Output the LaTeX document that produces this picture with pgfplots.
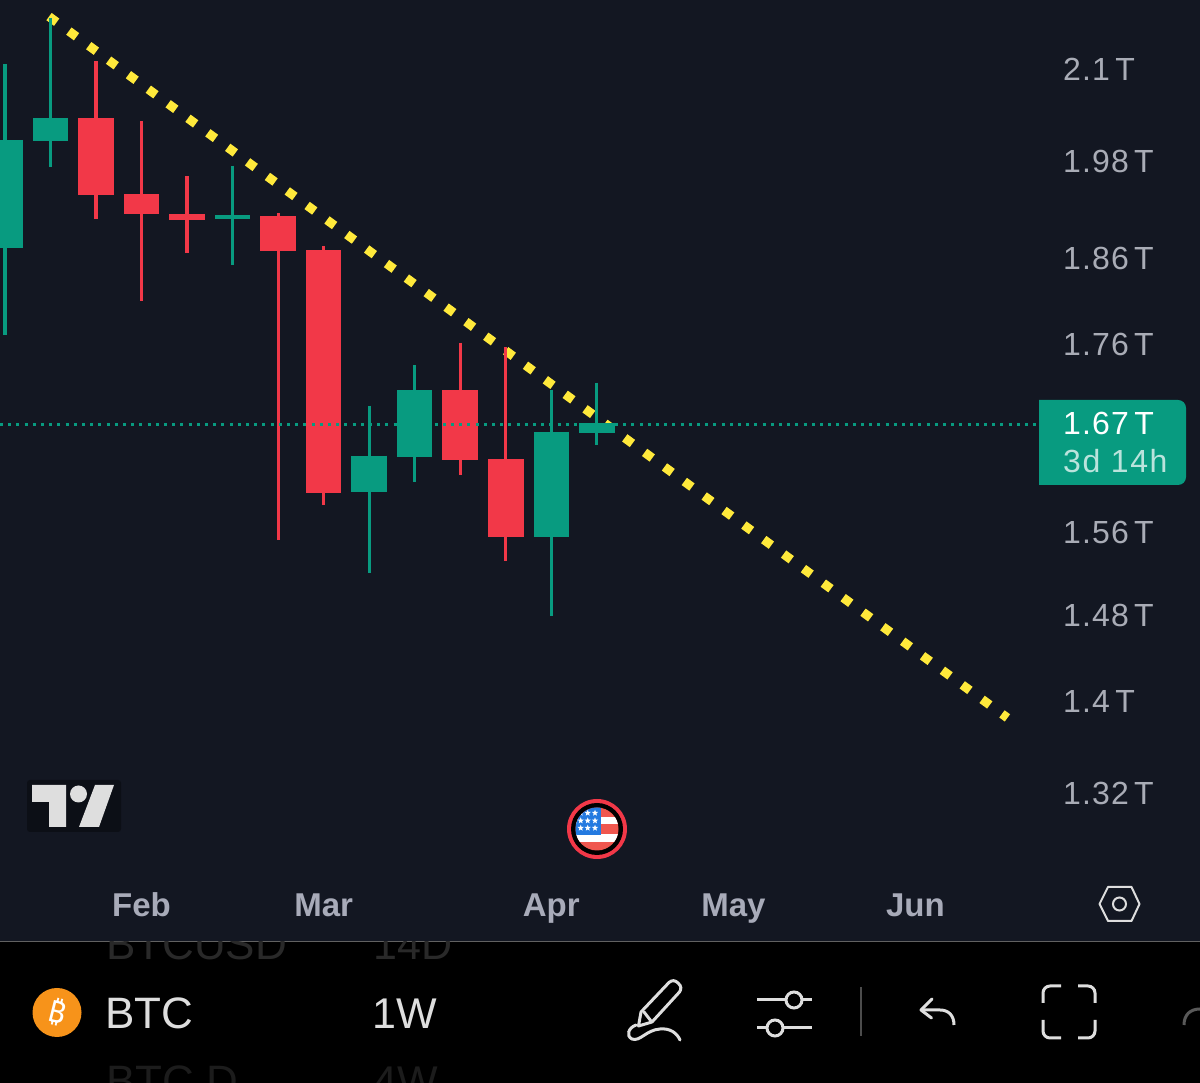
\documentclass[border=0pt]{standalone}
\usepackage{fontspec}
\usepackage{pgfplots}
\pgfplotsset{compat=1.18}
\usetikzlibrary{shapes.geometric}
\setmainfont{Liberation Sans}
\newfontfamily\pricefont[LetterSpace=3.6]{Liberation Sans}
\newfontfamily\timefont[LetterSpace=5]{Liberation Sans}
\newfontfamily\btcfont{Noto Sans}
\definecolor{bg}{HTML}{131722}
\definecolor{up}{HTML}{089B80}
\definecolor{down}{HTML}{F23848}
\definecolor{trend}{HTML}{FFE93B}
\definecolor{pricegray}{HTML}{A9ACB6}
\definecolor{monthgray}{HTML}{A8ABB9}
\definecolor{icon}{HTML}{DEDEDE}
\definecolor{flagred}{HTML}{F0574F}
\definecolor{flagblue}{HTML}{247AE0}
\definecolor{btcorange}{HTML}{F7931A}
\newcommand{\px}[1]{\fontsize{#1}{#1}\selectfont}
\begin{document}
\begin{tikzpicture}
\useasboundingbox (0,0) rectangle (1200pt,1083pt);
\begin{axis}[
  at={(0,0)}, anchor=south west, scale only axis,
  width=1200pt, height=1083pt,
  ymode=log,
  xmin=-0.1098, xmax=26.25,
  ymin=1.0958, ymax=2.1950,
  axis background/.style={fill=bg},
  axis line style={draw=none},
  major tick length=0pt, minor tick length=0pt,
  ymajorgrids=false, xmajorgrids=false,
  xtick={3,7,12,16,20},
  xticklabels={Feb,Mar,Apr,May,Jun},
  xticklabel style={anchor=base, yshift=166pt, inner sep=0pt, text=monthgray, font=\px{33}\bfseries},
  ytick={1.32,1.4,1.48,1.56,1.76,1.86,1.98,2.1},
  yticklabels={1.32\,T,1.4\,T,1.48\,T,1.56\,T,1.76\,T,1.86\,T,1.98\,T,2.1\,T},
  yticklabel pos=right,
  yticklabel style={anchor=base west, xshift=-137pt, yshift=-11.5pt, inner sep=0pt, text=pricegray, font=\px{32}\pricefont},
  unbounded coords=jump,
]
% trend line
\addplot[trend, line width=9pt, dash pattern=on 9.5pt off 15.1pt, line cap=butt, forget plot]
  coordinates {(0.967,2.1718) (22.02,1.3850)};
% green wicks
\addplot[up, line width=3.2pt, forget plot] table {
x y
0 2.107
0 1.771
1 nan
1 2.170
1 1.972
5 nan
5 1.974
5 1.852
8 nan
8 1.692
8 1.520
9 nan
9 1.7365
9 1.6112
12 nan
12 1.7092
12 1.4789
13 nan
13 1.7172
13 1.650
};
% red wicks
\addplot[down, line width=3.2pt, forget plot] table {
x y
2 2.1108
2 1.9073
3 nan
3 2.0311
3 1.8096
4 nan
4 1.9607
4 1.8662
6 nan
6 1.9147
6 1.5524
7 nan
7 1.8746
7 1.5880
10 nan
10 1.7619
10 1.6185
11 nan
11 1.7570
11 1.5317
};
% green bodies
\addplot[up, line width=35.5pt, forget plot] table {
x y
0 2.0065
0 1.8722
1 nan
1 2.0350
1 2.0052
5 nan
5 1.9123
5 1.9080
8 nan
8 1.6389
8 1.6010
9 nan
9 1.7092
9 1.6376
12 nan
12 1.6641
12 1.5557
13 nan
13 1.6737
13 1.6631
};
% red bodies
\addplot[down, line width=35.5pt, forget plot] table {
x y
2 2.0350
2 1.9370
3 nan
3 1.9382
3 1.9135
4 nan
4 1.9141
4 1.9061
6 nan
6 1.9110
6 1.8686
7 nan
7 1.8698
7 1.5999
10 nan
10 1.7092
10 1.6342
11 nan
11 1.6352
11 1.5557
};
% last price line
\addplot[up, line width=3pt, dash pattern=on 3pt off 5.2pt, forget plot]
  coordinates {(-0.1098,1.6724) (22.7,1.6724)};
\end{axis}
\begin{scope}[x=1pt,y=-1pt,yshift=1083pt]
% price tag
\fill[up] (1039,400) [rounded corners=8pt] -- (1186,400) -- (1186,485) [sharp corners] -- (1039,485) -- cycle;
\node[anchor=base west,inner sep=0,text=white,font=\px{32}\pricefont] at (1063,435) {1.67\,T};
\node[anchor=base west,inner sep=0,text=white!72!up,font=\px{32}\timefont] at (1063,473) {3d 14h};
% bottom bar
\fill[black] (0,941) rectangle (1200,1083);
\draw[line width=1pt,color=white!38!black] (0,941.5) -- (1200,941.5);
\begin{scope}
\clip (0,942) rectangle (1200,1083);
\node[anchor=base west,inner sep=0,text=white!16!black,font=\px{44}] at (106,960) {BTCUSD};
\node[anchor=base west,inner sep=0,text=white!16!black,font=\px{43}] at (373,960) {14D};
\node[anchor=base west,inner sep=0,text=white!11!black,font=\px{44}] at (106,1097) {BTC.D};
\node[anchor=base west,inner sep=0,text=white!11!black,font=\px{43}] at (373,1097) {4W};
\end{scope}
% TradingView logo
\fill[black!35!bg,rounded corners=3pt] (27,780) rectangle (121,832);
\fill[icon] (32,785) -- (66,785) -- (66,827) -- (49,827) -- (49,802) -- (32,802) -- cycle;
\fill[icon] (95,785) -- (114,785) -- (99,827) -- (79,827) -- cycle;
\fill[icon] (78.5,794) circle[radius=8.5];
% US flag
\fill[down] (597,829) circle[radius=30];
\fill[black] (597,829) circle[radius=26];
\begin{scope}
\clip (597,829) circle[radius=21.5];
\fill[flagred] (570,800) rectangle (625,860);
\fill[white] (570,817) rectangle (625,824);
\fill[white] (570,834) rectangle (625,842);
\fill[flagblue] (570,800) rectangle (601,835);
\foreach \xx in {580.7,587.7,595} \foreach \yy in {813,820.7,828}
  \node[star,star points=5,star point ratio=2.3,fill=white,inner sep=0,minimum size=6.5pt] at (\xx,\yy) {};
\end{scope}
% hexagon
\draw[icon,line width=2pt,line join=round] (1099.5,904) -- (1108,887) -- (1131.5,887) -- (1139.5,904) -- (1131.5,921) -- (1108,921) -- cycle;
\draw[icon,line width=2pt] (1119.5,904) circle[radius=6.5];
% BTC
\fill[btcorange] (57,1012.5) circle[radius=24.5];
\node[inner sep=0,text=white,rotate=-14,font=\px{30}\btcfont\bfseries] at (57,1012) {₿};
\node[anchor=base west,inner sep=0,text=icon,font=\px{44}] at (105,1029) {BTC};
\node[anchor=base west,inner sep=0,text=icon,font=\px{43}] at (372,1029) {1W};
% pencil
\draw[icon,line width=3pt,line join=round,line cap=round]
  (638.5,1026) -- (641,1012) -- (669,982.5) .. controls (672,980) and (675,980) .. (678,983) .. controls (681.5,986) and (681.5,989) .. (679.5,992) -- (652,1022) -- cycle;
\draw[icon,line width=3pt,line cap=round] (644,1012) -- (651,1021);
\draw[icon,line width=3pt,line cap=round] (636,1025) .. controls (628,1028) and (626,1036) .. (632,1039) .. controls (640,1042) and (646,1030) .. (660,1029) .. controls (670,1028) and (677,1033) .. (680,1040);
% sliders
\draw[icon,line width=3pt] (757,1000) -- (812,1000);
\draw[icon,line width=3pt] (757,1028) -- (812,1028);
\draw[icon,line width=3pt,fill=black] (794,1000) circle[radius=8];
\draw[icon,line width=3pt,fill=black] (775,1028) circle[radius=8];
% divider
\draw[white!30!black,line width=1.2pt] (861,987) -- (861,1036);
% undo
\draw[icon,line width=3pt,line cap=round,line join=round] (932,999) -- (921,1010) -- (931.5,1018);
\draw[icon,line width=3pt,line cap=butt] (921,1010) -- (940,1010) .. controls (949,1010) and (954,1016) .. (954,1025);
% fullscreen
\draw[icon,line width=3pt,rounded corners=7pt] (1043,1003) -- (1043,986) -- (1061,986);
\draw[icon,line width=3pt,rounded corners=7pt] (1078,986) -- (1095,986) -- (1095,1003);
\draw[icon,line width=3pt,rounded corners=7pt] (1043,1020) -- (1043,1038) -- (1061,1038);
\draw[icon,line width=3pt,rounded corners=7pt] (1078,1038) -- (1095,1038) -- (1095,1020);
% partial arc
\draw[white!35!black,line width=3pt] (1184,1025) .. controls (1184,1015) and (1190,1009) .. (1200,1009);
\end{scope}
\end{tikzpicture}
\end{document}
